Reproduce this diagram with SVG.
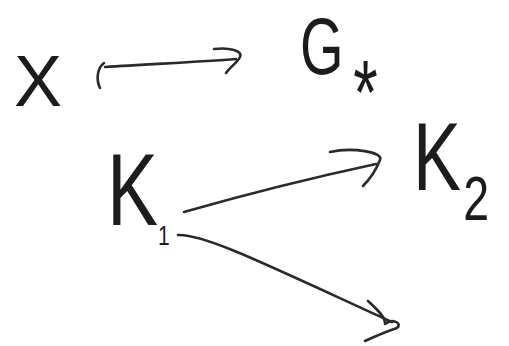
<svg xmlns="http://www.w3.org/2000/svg" width="509" height="346" viewBox="0 0 509 346">
<style>
.t{font-family:"Liberation Sans",Arial,sans-serif;fill:#1c1c1c}
.s{fill:none;stroke:#2a2a2a;stroke-width:2.6;stroke-linecap:round;stroke-linejoin:round}
</style>
<rect width="509" height="346" fill="#ffffff"/>
<g id="node-X"><text class="t" x="14" y="106" font-size="72">X</text></g>
<g id="node-Gstar">
<text class="t" transform="translate(300,74) scale(0.7,1)" font-size="80">G<tspan font-size="90" dx="14" dy="50">*</tspan></text>
</g>
<g id="node-K1">
<text class="t" transform="translate(107,225) scale(0.75,1)" font-size="102">K<tspan font-size="28" dx="0" dy="20">1</tspan></text>
</g>
<g id="node-K2">
<text class="t" transform="translate(413,190) scale(0.75,1)" font-size="96">K<tspan font-size="62" dx="3" dy="30">2</tspan></text>
</g>
<g id="connectors">
<path class="s" d="M100 88 C96 80 97 68 104 63"/>
<path class="s" d="M105 67 C150 64 200 62 236 59"/>
<path class="s" d="M214 49 C230 47 243 51 240 57 C237 63 229 68 226 73"/>
<path class="s" d="M184 212 C240 196 320 176 376 164"/>
<path class="s" d="M330 152 C352 147 384 152 380 160 C376 170 370 179 363 186"/>
<path class="s" d="M178 235 C205 234 265 264 392 322"/>
<path class="s" d="M368 301 C378 310 386 318 385 324 C392 318 403 323 397 328 C388 331 378 335 365 341"/>
</g>
</svg>
